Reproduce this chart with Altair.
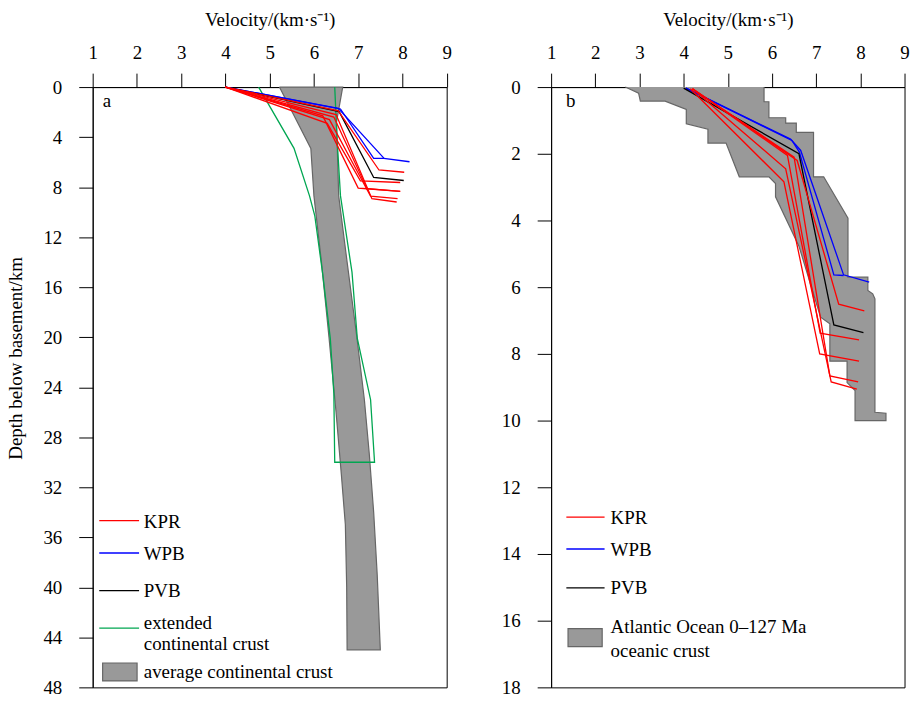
import altair as alt
import pandas as pd

FONT = "Liberation Serif"
FS = 19
RED, BLUE, BLACK, GREEN = "#ff0000", "#0000ff", "#000000", "#00a651"
GRAY_FILL, GRAY_STROKE = "#999999", "#666666"

# ---------------- Panel a data ----------------
# average continental crust band (left edge top->bottom, right edge)
a_avg_left_v = [5.22, 5.93, 6.0, 6.17, 6.34, 6.5, 6.62, 6.71, 6.74, 6.75]
a_avg_left_d = [0, 4.9, 8.7, 14, 20, 26, 31, 35, 40, 45]
a_avg_right_v = [6.65, 6.51, 6.56, 6.75, 6.97, 7.14, 7.25, 7.35, 7.43, 7.5]
a_avg_right_d = [0, 2.8, 8.7, 14, 20, 25, 29.3, 34, 39, 45]

# extended continental crust outline
a_ext_left_v = [4.75, 5.55, 5.9, 6.02, 6.2, 6.37, 6.45, 6.47]
a_ext_left_d = [0, 4.9, 8.7, 10.3, 15, 20.1, 24.5, 30]
a_ext_right_v = [7.37, 7.28, 6.98, 6.86, 6.6, 6.52, 6.47]
a_ext_right_d = [30, 25, 20.1, 14.8, 8.7, 4, 0]

a_lines = [
    ("WPB", [4.0, 6.6, 7.35, 7.58, 8.16], [0, 1.75, 5.7, 5.7, 5.97]),
    ("WPB", [4.0, 6.55, 7.58], [0, 1.7, 5.68]),
    ("PVB", [4.0, 6.57, 7.35, 8.03], [0, 1.96, 7.23, 7.47]),
    ("KPR", [4.0, 6.55, 7.47, 8.04], [0, 1.9, 6.63, 6.81]),
    ("KPR", [4.0, 6.3, 7.05, 7.95], [0, 2.9, 7.5, 7.63]),
    ("KPR", [4.0, 6.45, 7.2, 7.95], [0, 2.4, 8.13, 8.34]),
    ("KPR", [4.0, 6.35, 7.28, 7.89], [0, 2.6, 8.73, 8.92]),
    ("KPR", [4.0, 6.5, 7.31, 7.87], [0, 2.2, 8.92, 9.19]),
    ("KPR", [4.0, 6.2, 7.0, 7.2, 7.95], [0, 2.3, 8.08, 8.13, 8.34]),
]

# ---------------- Panel b data ----------------
b_poly_v = [2.68, 2.98, 3.02, 3.58, 4.06, 4.06, 4.55, 4.55, 4.96, 5.26, 5.93, 6.08, 6.08,
            6.61, 7.1, 7.31, 7.31, 7.7, 7.7, 7.88, 7.88, 8.58, 8.58, 8.33, 8.33, 8.28,
            8.17, 8.17, 7.72, 7.72, 7.17, 6.94, 6.94, 6.55, 6.55, 6.31, 6.31, 5.93,
            5.93, 5.82, 5.82]
b_poly_d = [0, 0.18, 0.42, 0.42, 0.67, 1.1, 1.26, 1.68, 1.68, 2.69, 2.69, 2.89, 3.29,
            4.77, 6.9, 7.1, 8.22, 8.22, 8.86, 9.1, 10.0, 10.0, 9.78, 9.75, 6.35, 6.2,
            6.1, 5.7, 5.7, 3.93, 2.69, 2.69, 1.36, 1.36, 1.08, 1.08, 0.92, 0.92,
            0.44, 0.44, 0]

b_lines = [
    ("WPB", [4.05, 6.42, 6.65, 7.62, 8.2], [0.03, 1.56, 1.9, 5.63, 5.85]),
    ("WPB", [4.05, 6.45, 6.62, 7.4, 7.62], [0.03, 1.6, 1.95, 5.63, 5.65]),
    ("PVB", [4.0, 6.61, 7.4, 8.07], [0.03, 2.0, 7.13, 7.36]),
    ("KPR", [4.2, 6.57, 7.51, 8.09], [0.05, 2.2, 6.51, 6.71]),
    ("KPR", [4.2, 6.35, 7.09, 7.97], [0.05, 2.05, 7.38, 7.58]),
    ("KPR", [4.15, 6.27, 7.08, 7.97], [0.05, 2.84, 8.0, 8.22]),
    ("KPR", [4.2, 6.5, 7.31, 7.95], [0.05, 2.1, 8.66, 8.84]),
    ("KPR", [4.2, 6.31, 7.34, 7.92], [0.05, 2.45, 8.84, 9.06]),
]

x_ticks = [1, 2, 3, 4, 5, 6, 7, 8, 9]
a_y_ticks = list(range(0, 49, 4))
b_y_ticks = list(range(0, 19, 2))

GROUPS = ["KPR", "WPB", "PVB", "ext"]
COLORS = [RED, BLUE, BLACK, GREEN]


def lines_df(lines):
    rows = []
    for k, (grp, vs, ds) in enumerate(lines):
        for i, (v, d) in enumerate(zip(vs, ds)):
            rows.append({"v": v, "d": d, "id": f"{grp}{k}", "grp": grp, "o": i})
    return pd.DataFrame(rows)


def poly_df(vs, ds):
    return pd.DataFrame({"v": vs, "d": ds, "o": list(range(len(vs)))})


W_A, W_B, H = 355.6, 355.0, 603


def encodings(ymax, yticks, ytitle):
    x = alt.X("v:Q", scale=alt.Scale(domain=[1, 9], nice=False, zero=False),
              axis=alt.Axis(orient="top", values=x_ticks, title="Velocity/(km·s⁻¹)"))
    if ytitle:
        yaxis = alt.Axis(values=yticks, title=ytitle, titleY=272)
    else:
        yaxis = alt.Axis(values=yticks, title=None)
    y = alt.Y("d:Q", scale=alt.Scale(domain=[0, ymax], reverse=True, nice=False, zero=False),
              axis=yaxis)
    return x, y


def panel(ymax, yticks, ytitle, polys, lines, legend_lines, legend_texts, box, letter, width):
    x, y = encodings(ymax, yticks, ytitle)
    layers = []
    for df in polys:
        layers.append(alt.Chart(df).mark_line(fill=GRAY_FILL, stroke=GRAY_STROKE, strokeWidth=1.2)
                      .encode(x=x, y=y, order="o:Q"))
    for df in lines:
        layers.append(alt.Chart(df).mark_line(strokeWidth=1.3).encode(
            x=x, y=y, detail="id:N", order="o:Q",
            color=alt.Color("grp:N", scale=alt.Scale(domain=GROUPS, range=COLORS), legend=None)))
    # legend
    leg_l = pd.DataFrame(legend_lines)
    layers.append(alt.Chart(leg_l).mark_rule(strokeWidth=1.3).encode(
        x=alt.X("x1:Q", scale=None), x2="x2:Q", y=alt.Y("y:Q", scale=None),
        color=alt.Color("c:N", scale=None)))
    leg_t = pd.DataFrame(legend_texts)
    layers.append(alt.Chart(leg_t).mark_text(align="left", baseline="middle", font=FONT,
                                             fontSize=FS, color="black").encode(
        x=alt.X("x:Q", scale=None), y=alt.Y("y:Q", scale=None), text="t:N"))
    leg_b = pd.DataFrame([box])
    layers.append(alt.Chart(leg_b).mark_rect(fill=GRAY_FILL, stroke=GRAY_STROKE, strokeWidth=1.2).encode(
        x=alt.X("x1:Q", scale=None), x2="x2:Q", y=alt.Y("y1:Q", scale=None), y2="y2:Q"))
    lab = pd.DataFrame([letter])
    layers.append(alt.Chart(lab).mark_text(align="left", baseline="middle", font=FONT,
                                           fontSize=FS, color="black").encode(
        x=alt.X("x:Q", scale=None), y=alt.Y("y:Q", scale=None), text="t:N"))
    return alt.layer(*layers).properties(width=width, height=H)


# Panel a
a_avg_poly = poly_df(a_avg_left_v + a_avg_right_v[::-1] + [a_avg_left_v[0]],
                     a_avg_left_d + a_avg_right_d[::-1] + [a_avg_left_d[0]])
a_ext = lines_df([("ext", a_ext_left_v + a_ext_right_v, a_ext_left_d + a_ext_right_d)])
a_main = lines_df(a_lines)

panel_a = panel(
    48, a_y_ticks, "Depth below basement/km",
    [a_avg_poly],
    [a_ext, a_main],
    {"x1": [6.6] * 4, "x2": [46.6] * 4, "y": [435.5, 468.0, 505.8, 543.5],
     "c": [RED, BLUE, BLACK, GREEN]},
    {"x": [51.3] * 6, "y": [437.0, 469.0, 506.5, 538.5, 559.0, 587.5],
     "t": ["KPR", "WPB", "PVB", "extended", "continental crust", "average continental crust"]},
    {"x1": 10, "x2": 44.6, "y1": 578.5, "y2": 596.5},
    {"x": 10, "y": 14, "t": "a"},
    W_A,
)

# Panel b
b_poly = poly_df(b_poly_v, b_poly_d)
b_main = lines_df(b_lines)
panel_b = panel(
    18, b_y_ticks, None,
    [b_poly],
    [b_main],
    {"x1": [15.3] * 3, "x2": [53.7] * 3, "y": [432.0, 464.0, 503.0],
     "c": [RED, BLUE, BLACK]},
    {"x": [59.7] * 5, "y": [432.5, 465.0, 503.5, 542.5, 566.0],
     "t": ["KPR", "WPB", "PVB", "Atlantic Ocean 0–127 Ma", "oceanic crust"]},
    {"x1": 17, "x2": 51.3, "y1": 544.0, "y2": 562.0},
    {"x": 15, "y": 14, "t": "b"},
    W_B,
)

chart = alt.hconcat(panel_a, panel_b, spacing=48.5).properties(
    padding={"left": 5.1, "top": 7.9, "right": 0, "bottom": 0},
    background="white",
).configure_view(
    stroke="black", strokeWidth=1
).configure_axis(
    grid=False, domainColor="black", tickColor="black", tickSize=14, tickWidth=1,
    labelFont=FONT, labelFontSize=FS, labelColor="black",
    titleFont=FONT, titleFontSize=FS, titleColor="black", titleFontWeight="normal",
    labelFlush=False, labelOverlap=False,
).configure_axisX(
    labelPadding=10.5, titlePadding=14.4,
).configure_axisY(
    labelPadding=17, titlePadding=18,
)

chart.save("out.html", embed_options={"renderer": "svg", "actions": False})
